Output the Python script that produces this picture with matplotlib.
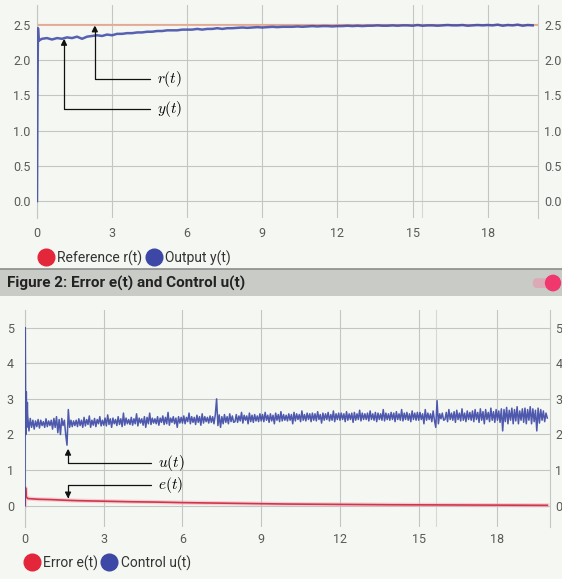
import numpy as np
import matplotlib
matplotlib.use("Agg")
import matplotlib.pyplot as plt
from matplotlib.lines import Line2D
from matplotlib.patches import Rectangle, Circle, FancyBboxPatch

plt.rcParams['font.family'] = ['Roboto', 'DejaVu Sans']
plt.rcParams['mathtext.fontset'] = 'cm'

# ---- data ----
# Figure 1: reference and output
r_t = [0.0, 0.02, 20.0]
r_vals = [0.0, 2.5, 2.5]

y_t_start = [0.0, 0.02, 0.04, 0.07, 0.1]
y_start = [0.0, 1.6, 2.45, 2.27, 2.28]
y_vals = [2.30, 2.31, 2.29, 2.31, 2.30, 2.32, 2.31, 2.33, 2.30, 2.33,
          2.34, 2.35, 2.34, 2.36, 2.35, 2.37, 2.37, 2.38, 2.38, 2.39,
          2.39, 2.40, 2.40, 2.41, 2.41, 2.42, 2.42, 2.42, 2.43, 2.43,
          2.43, 2.44, 2.43, 2.44, 2.44, 2.45, 2.44, 2.45, 2.45, 2.455,
          2.46, 2.455, 2.46, 2.465, 2.46, 2.465, 2.47, 2.465, 2.47, 2.47,
          2.47, 2.475, 2.47, 2.475, 2.48, 2.475, 2.48, 2.48, 2.475, 2.48,
          2.48, 2.485, 2.48, 2.485, 2.48, 2.485, 2.485, 2.49, 2.485, 2.485,
          2.49, 2.485, 2.49, 2.49, 2.485, 2.495, 2.485, 2.49, 2.49, 2.485,
          2.49, 2.495, 2.49, 2.49, 2.495, 2.485, 2.49, 2.495, 2.49, 2.495,
          2.49, 2.5, 2.485, 2.495, 2.49, 2.5, 2.485, 2.495, 2.49]
y_t = list(0.2 + 0.2 * np.arange(len(y_vals)))

# Figure 2: error and control
e_t = [0, 0.02, 0.05, 0.1, 0.5, 1, 1.6, 2, 3, 4, 5, 6, 7, 8, 9, 10, 12, 14, 16, 18, 19.9]
e_vals = [0.0, 0.5, 0.25, 0.2, 0.18, 0.17, 0.15, 0.14, 0.125, 0.11, 0.1,
          0.085, 0.075, 0.065, 0.055, 0.045, 0.035, 0.025, 0.02, 0.015, 0.01]

u_t_start = [0.0, 0.01, 0.03, 0.05, 0.07, 0.09]
u_start = [0.0, 5.0, 2.0, 3.2, 2.2, 2.9]
# samples every 0.05 s from t = 0.1
u_vals = [
    2.55, 2.1, 2.45, 2.2, 2.4, 2.15, 2.38, 2.22, 2.42, 2.18, 2.4, 2.25, 2.36, 2.2, 2.44, 2.22, 2.38, 2.25,
    2.4, 2.15, 2.45, 2.2, 2.5, 2.05, 2.42, 2.0, 2.45, 2.25, 2.4, 2.0, 1.7, 2.7, 2.2, 2.4, 2.22, 2.38, 2.25, 2.4,
    2.22, 2.44, 2.25, 2.4, 2.2, 2.48, 2.24, 2.42, 2.28, 2.52, 2.2, 2.4, 2.26, 2.45, 2.22, 2.42, 2.3, 2.5, 2.24, 2.4,
    2.26, 2.46, 2.24, 2.55, 2.28, 2.44, 2.2, 2.46, 2.3, 2.42, 2.25, 2.5, 2.28, 2.44, 2.22, 2.6, 2.26, 2.46, 2.3, 2.42,
    2.28, 2.48, 2.26, 2.44, 2.3, 2.58, 2.24, 2.46, 2.32, 2.44, 2.26, 2.5, 2.2, 2.48, 2.3, 2.6, 2.28, 2.46, 2.32, 2.44,
    2.3, 2.5, 2.26, 2.46, 2.34, 2.52, 2.28, 2.48, 2.3, 2.62, 2.26, 2.46, 2.34, 2.5, 2.3, 2.46, 2.2, 2.5, 2.32, 2.48,
    2.32, 2.52, 2.3, 2.48, 2.36, 2.6, 2.3, 2.5, 2.34, 2.48, 2.28, 2.54, 2.34, 2.5, 2.26, 2.58, 2.32, 2.5, 2.36, 2.48,
    2.32, 2.52, 2.34, 2.5, 2.3, 2.55, 3.0, 2.25, 2.55, 2.2, 2.5, 2.3, 2.56, 2.34, 2.5, 2.3, 2.58, 2.36, 2.52, 2.34,
    2.36, 2.56, 2.34, 2.52, 2.38, 2.62, 2.32, 2.54, 2.4, 2.52, 2.3, 2.6, 2.36, 2.54, 2.34, 2.56, 2.38, 2.52, 2.36, 2.58,
    2.38, 2.56, 2.36, 2.62, 2.4, 2.54, 2.34, 2.58, 2.38, 2.54, 2.3, 2.6, 2.4, 2.56, 2.36, 2.64, 2.38, 2.56, 2.4, 2.54,
    2.38, 2.58, 2.4, 2.56, 2.3, 2.62, 2.38, 2.58, 2.42, 2.56, 2.36, 2.66, 2.4, 2.56, 2.38, 2.6, 2.42, 2.58, 2.36, 2.6,
    2.4, 2.58, 2.38, 2.64, 2.42, 2.56, 2.32, 2.6, 2.4, 2.58, 2.42, 2.62, 2.38, 2.56, 2.4, 2.66, 2.36, 2.58, 2.42, 2.6,
    2.4, 2.6, 2.42, 2.58, 2.36, 2.64, 2.4, 2.58, 2.42, 2.6, 2.34, 2.62, 2.4, 2.58, 2.42, 2.68, 2.38, 2.6, 2.42, 2.58,
    2.42, 2.6, 2.38, 2.66, 2.42, 2.58, 2.4, 2.62, 2.36, 2.6, 2.42, 2.58, 2.4, 2.7, 2.38, 2.6, 2.42, 2.58, 2.4, 2.62,
    2.42, 2.6, 2.36, 2.64, 2.42, 2.58, 2.4, 2.7, 2.38, 2.6, 2.42, 2.62, 2.4, 2.58, 2.36, 2.66, 2.42, 2.6, 2.4, 2.62,
    2.4, 2.62, 2.42, 2.58, 2.3, 2.7, 2.4, 2.6, 2.42, 2.58, 2.36, 2.66, 2.4, 2.2, 2.95, 2.3, 2.58, 2.44, 2.6, 2.4,
    2.42, 2.62, 2.36, 2.7, 2.42, 2.6, 2.4, 2.64, 2.34, 2.68, 2.42, 2.6, 2.38, 2.72, 2.4, 2.6, 2.36, 2.66, 2.42, 2.62,
    2.4, 2.66, 2.36, 2.7, 2.42, 2.62, 2.34, 2.72, 2.4, 2.64, 2.3, 2.7, 2.42, 2.62, 2.36, 2.74, 2.4, 2.64, 2.34, 2.7,
    2.4, 2.66, 2.34, 2.72, 2.1, 2.7, 2.36, 2.76, 2.3, 2.68, 2.4, 2.74, 2.3, 2.7, 2.38, 2.78, 2.3, 2.66, 2.4, 2.72,
    2.34, 2.74, 2.3, 2.7, 2.4, 2.78, 2.3, 2.72, 2.36, 2.68, 2.1, 2.74, 2.32, 2.7, 2.4, 2.66, 2.36, 2.6, 2.46]
u_t = list(0.1 + 0.05 * np.arange(len(u_vals)))

x_ticks = [0, 3, 6, 9, 12, 15, 18]
y1_ticks = [0.0, 0.5, 1.0, 1.5, 2.0, 2.5]
y2_ticks = [0, 1, 2, 3, 4, 5]

legend1 = ['Reference r(t)', 'Output y(t)']
legend2 = ['Error e(t)', 'Control u(t)']
title2 = 'Figure 2: Error e(t) and Control u(t)'

# ---- styles ----
bg = '#f4f7f2'
grid_c = '#c4c6c3'
tick_c = '#5a5a5a'
blue = '#3c47a6'
red = '#e3263a'
red_line = '#d0354e'
orange = '#f0a58a'


def style_axes(ax, yticks, ylim, fmt, xpad, lpad, rpad):
    ax.set_facecolor(bg)
    ax.set_xlim(0, 20)
    ax.set_ylim(*ylim)
    ax.set_xticks(x_ticks)
    ax.set_yticks(yticks)
    ax.set_yticklabels([fmt % v for v in yticks])
    ax.grid(True, color=grid_c, lw=0.8)
    ax.set_axisbelow(True)
    for s in ['top', 'bottom']:
        ax.spines[s].set_visible(False)
    for s in ['left', 'right']:
        ax.spines[s].set_color(grid_c)
        ax.spines[s].set_linewidth(0.8)
    ax.tick_params(axis='x', length=0, pad=xpad, labelsize=9, labelcolor=tick_c)
    ax.tick_params(axis='y', length=0, pad=lpad, labelsize=9, labelcolor=tick_c)
    # right side labels
    axr = ax.twinx()
    axr.set_ylim(*ylim)
    axr.set_yticks(yticks)
    axr.set_yticklabels([fmt % v for v in yticks])
    axr.tick_params(axis='y', length=0, pad=rpad, labelsize=9, labelcolor=tick_c)
    for s in axr.spines.values():
        s.set_visible(False)
    axr.patch.set_visible(False)
    return ax


fig = plt.figure(figsize=(5.62, 5.79), dpi=100)
fig.patch.set_facecolor(bg)

arrow = dict(arrowstyle='-|>', color='#111111', lw=0.9, mutation_scale=9,
             connectionstyle='angle,angleA=0,angleB=90,rad=0', shrinkA=3, shrinkB=0)

# ---- figure 1 ----
ax1 = fig.add_axes([0.0658, 0.6235, 0.891, 0.368])
style_axes(ax1, y1_ticks, (-0.24, 2.78), '%.1f', 6.5, 4.5, 4.5)
ax1.axvline(15.36, color='#d6d8d5', lw=0.8, zorder=0)
ax1.plot(r_t, r_vals, color=orange, lw=1.1, zorder=2)
ax1.plot(y_t_start + y_t, y_start + y_vals, color=blue, lw=1.8, alpha=0.85, zorder=3)
ax1.annotate('$r(t)$', xy=(2.31, 2.49), xytext=(4.8, 1.73), fontsize=11,
             ha='left', va='center', arrowprops=arrow, zorder=5)
ax1.annotate('$y(t)$', xy=(1.08, 2.3), xytext=(4.8, 1.31), fontsize=11,
             ha='left', va='center', arrowprops=arrow, zorder=5)

h1 = [Line2D([], [], ls='', marker='o', ms=12, color=red),
      Line2D([], [], ls='', marker='o', ms=12, color=blue)]
fig.legend(h1, legend1, loc='center left', bbox_to_anchor=(0.07, 0.5544),
           frameon=False, ncol=2, handlelength=0.9, handletextpad=0.35,
           columnspacing=0.4, borderpad=0, borderaxespad=0,
           prop={'size': 10}, labelcolor='#333333')

# ---- header bar ----
fig.patches.append(Rectangle((0, 0.4888), 1, 0.0466, transform=fig.transFigure,
                             facecolor='#c9cbc7', edgecolor='none', zorder=1))
fig.add_artist(Line2D([0, 1], [0.5354, 0.5354], transform=fig.transFigure,
                      color='#8c8e8b', lw=1.2))
fig.text(0.0125, 0.5112, title2, fontsize=11, fontweight='bold',
         color='#222222', va='center', ha='left')
fig.patches.append(FancyBboxPatch((0.948, 0.5025), 0.035, 0.017,
                                  boxstyle='round,pad=0,rounding_size=0.008',
                                  transform=fig.transFigure,
                                  facecolor='#dcaab6', edgecolor='none', zorder=2))
fig.add_artist(Circle((553 / 562, 0.5112), 0.0145, transform=fig.transFigure,
                      facecolor='#f0386f', edgecolor='none', zorder=3))

# ---- figure 2 ----
ax2 = fig.add_axes([0.0445, 0.0898, 0.934, 0.375])
style_axes(ax2, y2_ticks, (-0.6, 5.5), '%d', 4.5, 8, 4)
ax2.axvline(15.65, color='#d6d8d5', lw=0.8, zorder=0)
ax2.plot(e_t, e_vals, color='#f3a8b4', lw=3.0, alpha=0.5, zorder=2)
ax2.plot(e_t, e_vals, color=red_line, lw=1.2, zorder=3)
ax2.plot(u_t_start + u_t, u_start + u_vals, color=blue, lw=1.1, alpha=0.9, zorder=4)
ax2.annotate('$u(t)$', xy=(1.64, 1.6), xytext=(5.05, 1.21), fontsize=11,
             ha='left', va='center', arrowprops=arrow, zorder=5)
ax2.annotate('$e(t)$', xy=(1.64, 0.2), xytext=(5.05, 0.59), fontsize=11,
             ha='left', va='center', arrowprops=arrow, zorder=5)

h2 = [Line2D([], [], ls='', marker='o', ms=12, color=red),
      Line2D([], [], ls='', marker='o', ms=12, color=blue)]
fig.legend(h2, legend2, loc='center left', bbox_to_anchor=(0.045, 0.0276),
           frameon=False, ncol=2, handlelength=0.9, handletextpad=0.35,
           columnspacing=0.4, borderpad=0, borderaxespad=0,
           prop={'size': 10}, labelcolor='#333333')

fig.savefig('out.png', dpi=100, facecolor=bg)
